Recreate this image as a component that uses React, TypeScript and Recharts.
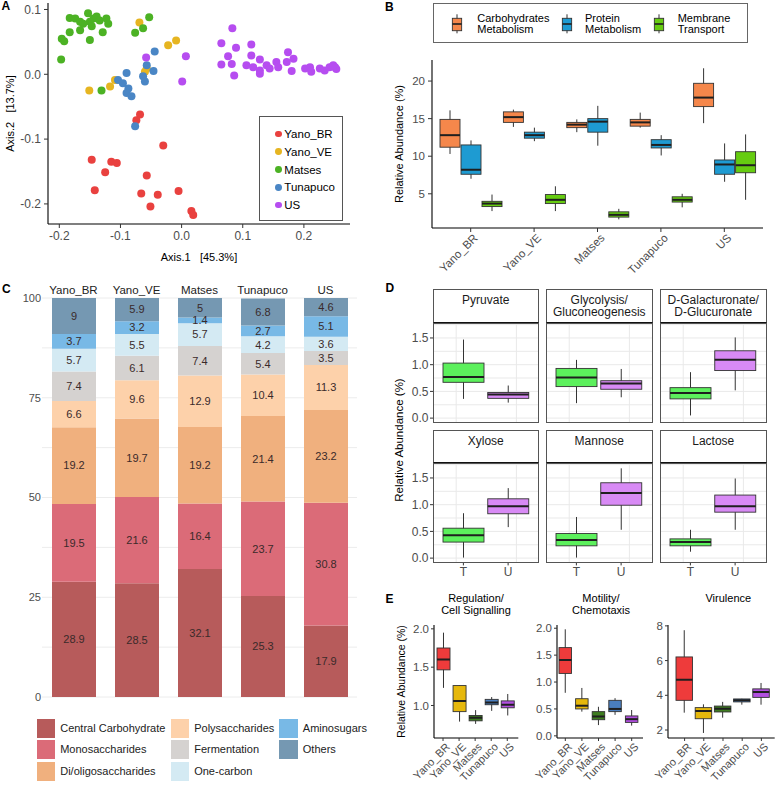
import React from "react";
import {
  ScatterChart,
  Scatter,
  BarChart,
  Bar,
  XAxis,
  YAxis,
  CartesianGrid,
  LabelList,
} from "recharts";

// ---------- shared ----------
const pops = ["Yano_BR", "Yano_VE", "Matses", "Tunapuco", "US"];
const popColors = ["#E9413F", "#E6B521", "#4CB224", "#4A86C5", "#B64DF0"];

// ---------- A: PCoA points [axis1, axis2] ----------
const yanoBR = [
  [-0.068, -0.062], [-0.074, -0.071], [-0.03, -0.11], [-0.147, -0.132], [-0.115, -0.135],
  [-0.106, -0.137], [-0.125, -0.151], [-0.057, -0.156], [-0.142, -0.179], [-0.066, -0.184],
  [-0.039, -0.186], [-0.005, -0.18], [-0.051, -0.204], [0.016, -0.211], [0.019, -0.217],
];
const yanoVE = [
  [-0.069, 0.08], [-0.022, 0.045], [-0.009, 0.052], [-0.151, -0.025], [-0.117, -0.019],
  [-0.109, -0.009], [-0.06, 0.004], [-0.057, 0.009],
];
const matses = [
  [-0.183, 0.087], [-0.174, 0.086], [-0.166, 0.081], [-0.153, 0.094], [-0.144, 0.086],
  [-0.139, 0.089], [-0.15, 0.081], [-0.161, 0.078], [-0.134, 0.083], [-0.123, 0.086],
  [-0.12, 0.078], [-0.183, 0.065], [-0.166, 0.068], [-0.147, 0.074], [-0.129, 0.065],
  [-0.196, 0.055], [-0.192, 0.051], [-0.15, 0.053], [-0.197, 0.023], [-0.076, 0.064],
  [-0.063, 0.071], [-0.053, 0.088], [-0.131, -0.025],
];
const tunapuco = [
  [-0.044, 0.035], [-0.057, 0.014], [-0.046, 0.005], [-0.09, 0.002], [-0.063, -0.003],
  [-0.06, -0.011], [-0.104, -0.009], [-0.096, -0.014], [-0.087, -0.022], [-0.09, -0.029],
  [-0.082, -0.034], [-0.076, -0.08],
];
const usPts = [
  [0.083, 0.071], [0.065, 0.048], [0.089, 0.041], [0.114, 0.046], [-0.058, 0.026],
  [0.007, 0.028], [0.001, -0.011], [0.076, 0.028], [0.065, 0.015], [0.082, 0.016],
  [0.086, -0.002], [0.114, 0.029], [0.106, 0.014], [0.117, 0.011], [0.128, 0.023],
  [0.128, 0.006], [0.128, 0.001], [0.139, 0.014], [0.144, 0.009], [0.155, 0.019],
  [0.158, 0.011], [0.174, 0.034], [0.172, 0.019], [0.183, 0.024], [0.18, 0.005],
  [0.202, 0.009], [0.21, 0.011], [0.212, 0.004], [0.226, 0.009], [0.234, 0.006],
  [0.242, 0.011], [0.251, 0.011], [0.253, 0.008], [0.248, 0.014],
];
const pcoaSets = [yanoBR, yanoVE, matses, tunapuco, usPts];

// ---------- B: box stats [min, q1, median, q3, max] per population ----------
const carbB = [[10.3, 11.2, 12.8, 14.9, 16.1], [13.9, 14.5, 15.2, 15.9, 16.2], [13.2, 13.8, 14.2, 14.5, 14.9], [13.8, 14.0, 14.5, 14.9, 15.8], [14.4, 16.6, 17.8, 19.7, 21.7]];
const protB = [[7.0, 7.6, 8.2, 11.5, 12.1], [12.0, 12.4, 12.8, 13.2, 13.8], [11.4, 13.2, 14.6, 15.0, 16.7], [10.1, 11.1, 11.5, 12.2, 12.8], [6.6, 7.6, 8.9, 9.5, 11.7]];
const membB = [[2.7, 3.3, 3.7, 4.0, 4.9], [2.7, 3.7, 4.2, 4.9, 6.0], [1.6, 1.9, 2.2, 2.6, 3.0], [3.2, 3.9, 4.2, 4.6, 5.0], [4.2, 7.8, 8.8, 10.6, 12.9]];
const bSeries = ["Carbohydrates\nMetabolism", "Protein\nMetabolism", "Membrane\nTransport"];
const bColors = ["#F5874B", "#1E9BD2", "#66CC11"];

// ---------- C: stacked composition ----------
const cCats = ["Central Carbohydrate", "Monosaccharides", "Di/oligosaccharides", "Polysaccharides", "Fermentation", "One-carbon", "Aminosugars", "Others"];
const cColors = ["#B75B5B", "#DB6B78", "#F0B07E", "#FDD1AA", "#D5D2D0", "#D4EAF3", "#78B9E6", "#7598B2"];
const cYanoBR = [28.9, 19.5, 19.2, 6.6, 7.4, 5.7, 3.7, 9];
const cYanoVE = [28.5, 21.6, 19.7, 9.6, 6.1, 5.5, 3.2, 5.9];
const cMatses = [32.1, 16.4, 19.2, 12.9, 7.4, 5.7, 1.4, 5];
const cTunapuco = [25.3, 23.7, 21.4, 10.4, 5.4, 4.2, 2.7, 6.8];
const cUS = [17.9, 30.8, 23.2, 11.3, 3.5, 3.6, 5.1, 4.6];
const cValues = [cYanoBR, cYanoVE, cMatses, cTunapuco, cUS];

// ---------- D: T vs U box stats ----------
const dTitles = ["Pyruvate", "Glycolysis/\nGluconeogenesis", "D-Galacturonate/\nD-Glucuronate", "Xylose", "Mannose", "Lactose"];
const dT = [[0.36, 0.67, 0.77, 1.03, 1.47], [0.28, 0.59, 0.76, 0.93, 1.09], [0.05, 0.36, 0.47, 0.57, 0.86], [0.01, 0.3, 0.43, 0.56, 0.84], [0.01, 0.23, 0.34, 0.46, 0.77], [0.12, 0.23, 0.3, 0.36, 0.53]];
const dU = [[0.29, 0.37, 0.44, 0.48, 0.61], [0.39, 0.54, 0.65, 0.7, 0.92], [0.52, 0.89, 1.09, 1.26, 1.51], [0.58, 0.83, 0.97, 1.11, 1.31], [0.53, 0.99, 1.22, 1.41, 1.68], [0.53, 0.86, 0.97, 1.18, 1.49]];
const dGroups = ["T", "U"];
const dColors = ["#5CF05C", "#D88AF5"];

// ---------- E: per-population box stats ----------
const eTitles = ["Regulation/\nCell Signalling", "Motility/\nChemotaxis", "Virulence"];
const eRegulation = [[1.23, 1.465, 1.6, 1.75, 1.95], [0.79, 0.92, 1.06, 1.26, 1.26], [0.76, 0.8, 0.84, 0.87, 0.94], [0.93, 1.01, 1.04, 1.08, 1.11], [0.87, 0.97, 1.01, 1.06, 1.15]];
const eMotility = [[0.8, 1.16, 1.41, 1.64, 1.98], [0.45, 0.5, 0.56, 0.69, 0.89], [0.2, 0.3, 0.36, 0.45, 0.54], [0.39, 0.45, 0.5, 0.66, 0.7], [0.19, 0.25, 0.31, 0.37, 0.48]];
const eVirulence = [[3.0, 3.71, 4.9, 6.21, 7.75], [1.83, 2.65, 3.1, 3.29, 3.48], [2.71, 3.04, 3.23, 3.38, 3.62], [3.46, 3.62, 3.71, 3.79, 3.8], [3.46, 3.88, 4.19, 4.37, 4.71]];
const eColors = ["#EE3B3B", "#E6B80C", "#3E7D20", "#4A7EBE", "#B24FE0"];

const tickGrey = "#4d4d4d";
const FONT = '"Liberation Sans", Arial, sans-serif';

// box drawn inside a range bar [min, max]; other stats placed with the bar's own pixel scale
const makeBox =
  (key: string, fill: string | ((row: any) => string), edge = "#333") =>
  (p: any) => {
    const s: number[] = p.payload[key];
    const lo = s[0];
    const hi = s[4];
    const top = Math.min(p.y, p.y + p.height);
    const k = Math.abs(p.height) / (hi - lo || 1);
    const py = (v: number) => top + (hi - v) * k;
    const cx = p.x + p.width / 2;
    const f = typeof fill === "function" ? fill(p.payload) : fill;
    return (
      <g>
        <line x1={cx} x2={cx} y1={py(hi)} y2={py(lo)} stroke={edge} strokeWidth={1} />
        <rect x={p.x} y={py(s[3])} width={p.width} height={Math.max(py(s[1]) - py(s[3]), 0.5)} fill={f} stroke={edge} strokeWidth={0.9} />
        <line x1={p.x} x2={p.x + p.width} y1={py(s[2])} y2={py(s[2])} stroke="#1f1f1f" strokeWidth={2} />
      </g>
    );
  };

function RotTick(props: any) {
  const { x, y, payload, fs } = props;
  return (
    <text x={x + 2} y={y} dy="0.71em" textAnchor="end" fontSize={fs} fill={tickGrey} transform={`rotate(-45 ${x + 2} ${y})`}>
      {payload.value}
    </text>
  );
}

const abs = (left: number, top: number, extra: React.CSSProperties = {}): React.CSSProperties => ({
  position: "absolute",
  left,
  top,
  ...extra,
});

function Letter({ t, left, top }: { t: string; left: number; top: number }) {
  return <div style={abs(left, top, { fontWeight: "bold", fontSize: 12, lineHeight: "12px" })}>{t}</div>;
}

function PanelA() {
  return (
    <>
      <div style={abs(0, 0)}>
        <ScatterChart width={360} height={265} margin={{ top: 3, right: 10, left: 0, bottom: 0 }}>
          <XAxis
            type="number"
            dataKey="x"
            domain={[-0.2185, 0.2754]}
            ticks={[-0.2, -0.1, 0, 0.1, 0.2]}
            interval={0}
            tickFormatter={(v: number) => v.toFixed(1)}
            allowDataOverflow
            height={41}
            tickSize={4}
            tickMargin={3}
            tick={{ fontSize: 12, fill: tickGrey }}
            axisLine={{ stroke: "#000", strokeWidth: 1.1 }}
            tickLine={{ stroke: "#333" }}
            label={{ value: "Axis.1\u00a0\u00a0\u00a0[45.3%]", position: "insideBottom", offset: 4, fontSize: 11, fill: "#000" }}
          />
          <YAxis
            type="number"
            dataKey="y"
            domain={[-0.231, 0.11]}
            ticks={[-0.2, -0.1, 0, 0.1]}
            interval={0}
            tickFormatter={(v: number) => v.toFixed(1)}
            allowDataOverflow
            width={48}
            tickSize={4}
            tickMargin={3}
            tick={{ fontSize: 12, fill: tickGrey }}
            axisLine={{ stroke: "#000", strokeWidth: 1.1 }}
            tickLine={{ stroke: "#333" }}
            label={{ value: "Axis.2\u00a0\u00a0\u00a0[13.7%]", angle: -90, position: "insideLeft", offset: 10, fontSize: 11, fill: "#000", style: { textAnchor: "middle" } }}
          />
          {pcoaSets.map((pts, i) => (
            <Scatter
              key={pops[i]}
              name={pops[i]}
              data={pts.map(([x, y]) => ({ x, y }))}
              fill={popColors[i]}
              isAnimationActive={false}
              shape={(p: any) => <circle cx={p.cx} cy={p.cy} r={4} fill={popColors[i]} />}
            />
          ))}
        </ScatterChart>
      </div>
      <div style={abs(259, 115.7, { width: 83.7, height: 105, border: "1px solid #555", boxSizing: "border-box" })} />
      {pops.map((p, i) => (
        <React.Fragment key={p}>
          <div style={abs(274.9, 134 + i * 17.75 - 3.4, { width: 6.8, height: 6.8, borderRadius: "50%", background: popColors[i] })} />
          <div style={abs(284.3, 134 + i * 17.75 - 7, { fontSize: 11.5, lineHeight: "14px" })}>{p}</div>
        </React.Fragment>
      ))}
    </>
  );
}

function PanelB() {
  const rows = pops.map((name, i) => ({
    name,
    carb: carbB[i],
    carbR: [carbB[i][0], carbB[i][4]],
    prot: protB[i],
    protR: [protB[i][0], protB[i][4]],
    memb: membB[i],
    membR: [membB[i][0], membB[i][4]],
  }));
  const keys = ["carb", "prot", "memb"];
  const iconX = [457.3, 566.7, 659];
  const textX = [477.3, 585, 677.7];
  return (
    <>
      <div style={abs(432.7, 3.3, { width: 315.6, height: 40, border: "1px solid #666", boxSizing: "border-box" })} />
      {bSeries.map((s, i) => (
        <React.Fragment key={s}>
          <svg style={abs(iconX[i] - 6, 13)} width={12} height={22}>
            <line x1={6} x2={6} y1={1.3} y2={20.3} stroke="#333" strokeWidth={1} />
            <rect x={1.35} y={5.3} width={9.3} height={12.4} fill={bColors[i]} stroke="#333" strokeWidth={0.9} />
            <line x1={1.35} x2={10.65} y1={11} y2={11} stroke="#1f1f1f" strokeWidth={1.6} />
          </svg>
          <div style={abs(textX[i], 12.8, { fontSize: 11, lineHeight: "11px", whiteSpace: "pre" })}>{s}</div>
        </React.Fragment>
      ))}
      <div style={abs(385, 0)}>
        <BarChart width={392} height={285} data={rows} margin={{ top: 60, right: 14, left: 0, bottom: 0 }} barGap={1} barSize={20}>
          <XAxis
            dataKey="name"
            height={57}
            padding={{ left: 7, right: 7 }}
            interval={0}
            tickSize={4}
            tickMargin={1}
            axisLine={{ stroke: "#000", strokeWidth: 1.1 }}
            tickLine={{ stroke: "#333" }}
            tick={(p: any) => <RotTick {...p} fs={11.5} />}
          />
          <YAxis
            domain={[0.45, 22.8]}
            ticks={[5, 10, 15, 20]}
            interval={0}
            allowDataOverflow
            width={47}
            tickSize={4}
            tickMargin={3}
            tick={{ fontSize: 11.5, fill: tickGrey }}
            axisLine={{ stroke: "#000", strokeWidth: 1.1 }}
            tickLine={{ stroke: "#333" }}
            label={{ value: "Relative Abundance (%)", angle: -90, position: "insideLeft", offset: 14, fontSize: 11, fill: "#000", style: { textAnchor: "middle" } }}
          />
          {keys.map((k, i) => (
            <Bar key={k} dataKey={k + "R"} shape={makeBox(k, bColors[i])} isAnimationActive={false} />
          ))}
        </BarChart>
      </div>
    </>
  );
}

function PanelC() {
  const rows = pops.map((name, i) => {
    const r: any = { name };
    cCats.forEach((c, j) => (r[c] = cValues[i][j]));
    return r;
  });
  const colLeft = [36.7, 170.7, 279.3];
  return (
    <>
      <div style={abs(0, 280)}>
        <BarChart width={365} height={430} data={rows} margin={{ top: 0, right: 8, left: 0, bottom: 13 }} barSize={44}>
          <CartesianGrid stroke="#ececec" vertical={false} horizontalValues={[0, 12.5, 25, 37.5, 50, 62.5, 75, 87.5, 100]} />
          <XAxis dataKey="name" orientation="top" height={18} interval={0} axisLine={false} tickLine={false} tickSize={0} tickMargin={4} tick={{ fontSize: 11.5, fill: "#222" }} />
          <YAxis domain={[0, 100]} ticks={[0, 25, 50, 75, 100]} interval={0} allowDataOverflow width={42} axisLine={false} tickLine={false} tickSize={0} tickMargin={1} tick={{ fontSize: 11, fill: tickGrey }} />
          {cCats.map((c, i) => (
            <Bar key={c} dataKey={c} stackId="a" fill={cColors[i]} isAnimationActive={false}>
              <LabelList dataKey={c} position="center" fontSize={11} fill="#3a2a2a" />
            </Bar>
          ))}
        </BarChart>
      </div>
      {cCats.map((c, i) => {
        const col = Math.floor(i / 3);
        const row = i % 3;
        const top = 718.5 + row * 21.5;
        return (
          <React.Fragment key={c}>
            <div style={abs(colLeft[col], top, { width: 18.5, height: 19, background: cColors[i] })} />
            <div style={abs(colLeft[col] + 23.5, top + 3, { fontSize: 11, lineHeight: "13px", color: "#222" })}>{c}</div>
          </React.Fragment>
        );
      })}
    </>
  );
}

const dColLeft = [432.5, 546, 660];
const dStripTop = [289, 430];
const dStripH = [34.3, 33.3];
const dPanelTop = [323.3, 463.3];
const dW = 106.5;
const dH = 99.4;

function Facet({ i }: { i: number }) {
  const col = i % 3;
  const row = Math.floor(i / 3);
  const left = dColLeft[col];
  const top = dPanelTop[row];
  const yw = col === 0 ? 45 : 0;
  const xh = row === 1 ? 20 : 0;
  const padB = row === 0 ? 8 : 0;
  const rows = dGroups.map((g, j) => {
    const s = j === 0 ? dT[i] : dU[i];
    return { name: g, s, r: [s[0], s[4]] };
  });
  return (
    <>
      <div
        style={abs(left, dStripTop[row], {
          width: dW,
          height: dStripH[row],
          border: "1px solid #555",
          borderBottom: "1.6px solid #111",
          boxSizing: "border-box",
          textAlign: "center",
          fontSize: 12,
          lineHeight: "11.5px",
          paddingTop: 5,
          whiteSpace: "pre",
          color: "#1a1a1a",
        })}
      >
        {dTitles[i]}
      </div>
      <div style={abs(left - yw, top)}>
        <BarChart width={dW + yw} height={dH + xh + padB} data={rows} margin={{ top: 0, right: 0, left: 0, bottom: padB }} barSize={41}>
          <CartesianGrid
            stroke="#e9e9e9"
            horizontalValues={[0, 0.25, 0.5, 0.75, 1, 1.25, 1.5, 1.75]}
            verticalCoordinatesGenerator={({ offset }: any) => [offset.left + offset.width * 0.218, offset.left + offset.width * 0.783]}
          />
          <XAxis
            dataKey="name"
            hide={row === 0}
            height={20}
            interval={0}
            padding={{ left: 8, right: 9 }}
            axisLine={false}
            tickSize={3}
            tickMargin={2}
            tickLine={{ stroke: "#333" }}
            tick={{ fontSize: 12, fill: tickGrey }}
          />
          <YAxis
            hide={col !== 0}
            width={45}
            domain={[-0.08, 1.78]}
            ticks={[0, 0.5, 1, 1.5]}
            interval={0}
            tickFormatter={(v: number) => v.toFixed(1)}
            allowDataOverflow
            axisLine={false}
            tickSize={3}
            tickMargin={1.5}
            tickLine={{ stroke: "#333" }}
            tick={{ fontSize: 12, fill: tickGrey }}
          />
          <Bar dataKey="r" shape={makeBox("s", (r: any) => (r.name === "T" ? dColors[0] : dColors[1]))} isAnimationActive={false} />
        </BarChart>
      </div>
      <div style={abs(left, top, { width: dW, height: dH, border: "1px solid #555", boxSizing: "border-box", pointerEvents: "none" })} />
    </>
  );
}

function PanelD() {
  return (
    <>
      {dTitles.map((t, i) => (
        <Facet key={t} i={i} />
      ))}
      <div style={abs(399, 440, { transform: "translate(-50%, -50%) rotate(-90deg)", fontSize: 11.5, whiteSpace: "nowrap" })}>
        Relative Abundance (%)
      </div>
    </>
  );
}

type ESpec = {
  stats: number[][];
  axisX: number;
  plotW: number;
  pad: { left: number; right: number };
  domain: [number, number];
  ticks: number[];
  fmt: (v: number) => string;
  box: number;
  titleX: number;
  label?: boolean;
};

const eSpecs: ESpec[] = [
  { stats: eRegulation, axisX: 434, plotW: 84.3, pad: { left: 1, right: 3 }, domain: [0.576, 2.05], ticks: [1, 1.5, 2], fmt: (v) => v.toFixed(1), box: 13, titleX: 476, label: true },
  { stats: eMotility, axisX: 557.3, plotW: 86, pad: { left: 0, right: 3 }, domain: [-0.04, 2.06], ticks: [0, 0.5, 1, 1.5, 2], fmt: (v) => v.toFixed(1), box: 12.5, titleX: 601 },
  { stats: eVirulence, axisX: 668.3, plotW: 106.7, pad: { left: 7, right: 3.7 }, domain: [1.54, 8.05], ticks: [2, 4, 6, 8], fmt: (v) => String(v), box: 16.5, titleX: 728.3 },
];

function PanelE() {
  return (
    <>
      {eSpecs.map((sp, k) => {
        const rows = pops.map((name, i) => ({ name, s: sp.stats[i], r: [sp.stats[i][0], sp.stats[i][4]], c: eColors[i] }));
        return (
          <React.Fragment key={k}>
            <div style={abs(sp.titleX - 60, 593.3, { width: 120, textAlign: "center", fontSize: 11, lineHeight: "11.5px", whiteSpace: "pre" })}>{eTitles[k]}</div>
            <div style={abs(sp.axisX - 44, 620)}>
              <BarChart width={44 + sp.plotW + 2} height={165} data={rows} margin={{ top: 5, right: 2, left: 0, bottom: 0 }} barSize={sp.box}>
                <XAxis
                  dataKey="name"
                  height={47}
                  interval={0}
                  padding={sp.pad}
                  tickSize={3}
                  tickMargin={1}
                  axisLine={{ stroke: "#000", strokeWidth: 1.1 }}
                  tickLine={{ stroke: "#333" }}
                  tick={(p: any) => <RotTick {...p} fs={11} />}
                />
                <YAxis
                  width={44}
                  domain={sp.domain}
                  ticks={sp.ticks}
                  interval={0}
                  tickFormatter={sp.fmt}
                  allowDataOverflow
                  tickSize={3}
                  tickMargin={2}
                  tick={{ fontSize: 11.5, fill: tickGrey }}
                  axisLine={{ stroke: "#000", strokeWidth: 1.1 }}
                  tickLine={{ stroke: "#333" }}
                  label={
                    sp.label
                      ? { value: "Relative Abundance (%)", angle: -90, position: "insideLeft", offset: 11.7, fontSize: 10.5, fill: "#000", style: { textAnchor: "middle" } }
                      : undefined
                  }
                />
                <Bar dataKey="r" shape={makeBox("s", (r: any) => r.c)} isAnimationActive={false} />
              </BarChart>
            </div>
          </React.Fragment>
        );
      })}
    </>
  );
}

export default function App() {
  return (
    <div style={{ position: "absolute", left: 0, top: 0, width: 777, height: 785, background: "#fff", fontFamily: FONT, color: "#000", overflow: "hidden" }}>
      <PanelA />
      <PanelB />
      <PanelC />
      <PanelD />
      <PanelE />
      <Letter t="A" left={1.5} top={0} />
      <Letter t="B" left={385} top={1} />
      <Letter t="C" left={2} top={283} />
      <Letter t="D" left={385.5} top={282} />
      <Letter t="E" left={385.5} top={593} />
    </div>
  );
}
